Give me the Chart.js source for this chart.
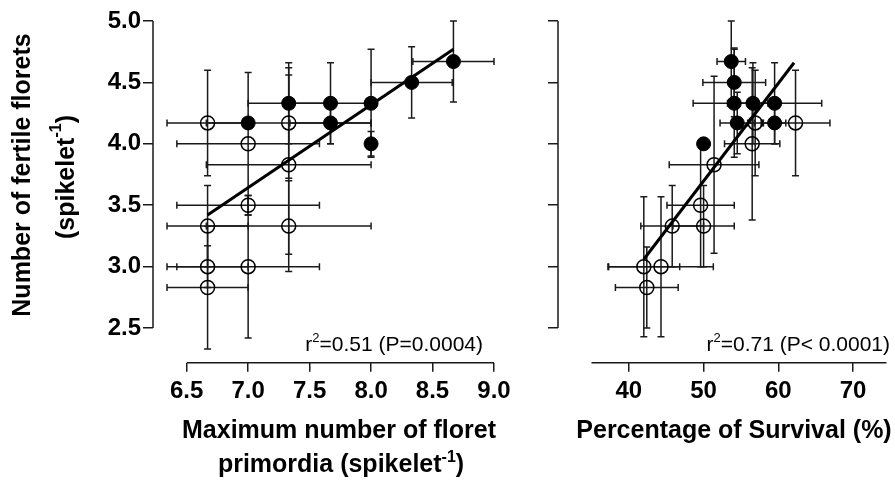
<!DOCTYPE html>
<html>
<head>
<meta charset="utf-8">
<script src="https://cdn.jsdelivr.net/npm/chart.js@4.4.0/dist/chart.umd.min.js"></script>
<style>
  body { margin: 0; background: #fff; }
  #wrap { position: relative; width: 895px; height: 480px; }
  canvas { position: absolute; top: 0; }
  #left { left: 0; }
  #right { left: 520px; }
</style>
</head>
<body>
<div id="wrap">
  <canvas id="left" width="520" height="480"></canvas>
  <canvas id="right" width="375" height="480"></canvas>
</div>
<script>
// tick labels
const yTicks = [2.5, 3.0, 3.5, 4.0, 4.5, 5.0];
const primTicks = [6.5, 7.0, 7.5, 8.0, 8.5, 9.0];
const survTicks = [40, 50, 60, 70];

// left panel - max floret primordia vs fertile florets
const primOpenX = [6.67, 6.67, 6.67, 6.67, 7.0, 7.0, 7.0, 7.33, 7.33, 7.33];
const primOpenY = [4.17, 3.33, 3.0, 2.83, 4.0, 3.5, 3.0, 4.17, 3.83, 3.33];
const primOpenXErr = [0.33, 0.33, 0.33, 0.33, 0.58, 0.58, 0.58, 0.67, 0.67, 0.67];
const primOpenYErr = [0.43, 0.33, 0.17, 0.5, 0.58, 0.08, 0.58, 0.45, 0.73, 0.37];
const primFillX = [7.0, 7.33, 7.67, 7.67, 8.0, 8.0, 8.33, 8.67];
const primFillY = [4.17, 4.33, 4.33, 4.17, 4.33, 4.0, 4.5, 4.67];
const primFillXErr = [0, 0.33, 0.33, 0.33, 0, 0, 0.33, 0.33];
const primFillYErr = [0, 0.33, 0.33, 0.17, 0.44, 0.1, 0.29, 0.33];
const primFitX = [6.67, 8.67];
const primFitY = [3.42, 4.77];

// right panel - survival vs fertile florets
const survOpenX = [56.9, 62.3, 56.5, 51.4, 49.6, 45.8, 50.0, 42.0, 44.3, 42.4];
const survOpenY = [4.17, 4.17, 4.0, 3.83, 3.5, 3.33, 3.33, 3.0, 3.0, 2.83];
const survOpenXErr = [1.0, 4.6, 3.7, 6.0, 4.5, 4.2, 4.1, 4.8, 7.0, 4.2];
const survOpenYErr = [0.43, 0.43, 0.62, 0.72, 0.5, 0.33, 0.33, 0.57, 0.57, 0.33];
const survFillX = [53.7, 54.1, 54.1, 56.6, 59.5, 54.5, 59.5, 50.0];
const survFillY = [4.67, 4.5, 4.33, 4.33, 4.33, 4.17, 4.17, 4.0];
const survFillXErr = [1.9, 4.2, 5.5, 2.0, 6.3, 2.3, 1.5, 0];
const survFillYErr = [0.33, 0.28, 0.44, 0.33, 0.33, 0.25, 0.17, 0];
const survFitX = [42.0, 62.1];
const survFitY = [3.06, 4.66];

const FONT = "'Liberation Sans', Arial, sans-serif";
const INK = '#1a1a1a';

function pts(xs, ys) {
  return xs.map((v, i) => ({ x: v, y: ys[i] }));
}

// text with superscript pieces: parts = [[text, isSup], ...]
function richText(ctx, parts, x, y, size, weight, align) {
  const big = weight + ' ' + size + 'px ' + FONT;
  const small = weight + ' ' + Math.round(size * 0.62) + 'px ' + FONT;
  let total = 0;
  parts.forEach(p => { ctx.font = p[1] ? small : big; total += ctx.measureText(p[0]).width; });
  let cx = align === 'right' ? x - total : align === 'center' ? x - total / 2 : x;
  ctx.textAlign = 'left';
  parts.forEach(p => {
    ctx.font = p[1] ? small : big;
    ctx.fillText(p[0], cx, p[1] ? y - size * 0.42 : y);
    cx += ctx.measureText(p[0]).width;
  });
}

const errorBars = {
  id: 'errorBars',
  beforeDatasetsDraw(chart) {
    const { ctx } = chart;
    const sx = chart.scales.x, sy = chart.scales.y;
    const cap = 3.5;
    ctx.save();
    ctx.strokeStyle = INK;
    ctx.lineWidth = 1.5;
    chart.data.datasets.forEach(ds => {
      if (!ds.xErr) return;
      ds.data.forEach((p, i) => {
        const px = sx.getPixelForValue(p.x), py = sy.getPixelForValue(p.y);
        const ex = ds.xErr[i], ey = ds.yErr[i];
        ctx.beginPath();
        if (ex > 0) {
          const x1 = sx.getPixelForValue(p.x - ex), x2 = sx.getPixelForValue(p.x + ex);
          ctx.moveTo(x1, py); ctx.lineTo(x2, py);
          ctx.moveTo(x1, py - cap); ctx.lineTo(x1, py + cap);
          ctx.moveTo(x2, py - cap); ctx.lineTo(x2, py + cap);
        }
        if (ey > 0) {
          const y1 = sy.getPixelForValue(p.y - ey), y2 = sy.getPixelForValue(p.y + ey);
          ctx.moveTo(px, y1); ctx.lineTo(px, y2);
          ctx.moveTo(px - cap, y1); ctx.lineTo(px + cap, y1);
          ctx.moveTo(px - cap, y2); ctx.lineTo(px + cap, y2);
        }
        ctx.stroke();
      });
    });
    ctx.restore();
  }
};

// prism style detached axis lines
function axisLines(xFrom, xTo) {
  return {
    id: 'axisLines',
    afterDraw(chart) {
      const { ctx, chartArea } = chart;
      const sx = chart.scales.x, sy = chart.scales.y;
      ctx.save();
      ctx.strokeStyle = INK;
      ctx.lineWidth = 1.5;
      ctx.beginPath();
      ctx.moveTo(chartArea.left, sy.getPixelForValue(yTicks[yTicks.length - 1]));
      ctx.lineTo(chartArea.left, sy.getPixelForValue(yTicks[0]));
      ctx.moveTo(sx.getPixelForValue(xFrom), chartArea.bottom);
      ctx.lineTo(xTo === null ? chartArea.right : sx.getPixelForValue(xTo), chartArea.bottom);
      ctx.stroke();
      ctx.restore();
    }
  };
}

function datasets(openX, openY, openXErr, openYErr, fillX, fillY, fillXErr, fillYErr, fitX, fitY) {
  return [
    {
      type: 'line', data: pts(fitX, fitY), borderColor: '#000', borderWidth: 3,
      pointRadius: 0, order: 0
    },
    {
      data: pts(openX, openY), xErr: openXErr, yErr: openYErr,
      pointRadius: 7, pointBorderWidth: 1.5, pointBorderColor: '#000',
      pointBackgroundColor: 'rgba(0,0,0,0)', order: 2
    },
    {
      data: pts(fillX, fillY), xErr: fillXErr, yErr: fillYErr,
      pointRadius: 7, pointBorderWidth: 1, pointBorderColor: '#000',
      pointBackgroundColor: '#000', order: 1
    }
  ];
}

function options(xMin, xMax, xTicks, xFmt, yWidth, yLabels, pad) {
  const grid = { drawOnChartArea: false, drawTicks: true, color: INK, lineWidth: 1.5 };
  return {
    responsive: false,
    animation: false,
    devicePixelRatio: 1,
    layout: { padding: pad },
    plugins: { legend: { display: false }, tooltip: { enabled: false } },
    scales: {
      x: {
        type: 'linear', min: xMin, max: xMax,
        border: { display: false },
        grid: Object.assign({ tickLength: 9 }, grid),
        afterBuildTicks: s => { s.ticks = xTicks.map(v => ({ value: v })); },
        afterFit: s => { s.height = 117.3; s.paddingLeft = 0; s.paddingRight = 0; },
        ticks: {
          callback: xFmt, color: '#000', padding: 5, maxRotation: 0, autoSkip: false,
          font: { family: FONT, size: 24, weight: 'bold' }
        }
      },
      y: {
        type: 'linear', min: 2.218, max: 5.0,
        border: { display: false },
        grid: Object.assign({ tickLength: 10 }, grid),
        afterBuildTicks: s => { s.ticks = yTicks.map(v => ({ value: v })); },
        afterFit: s => { s.width = yWidth; s.paddingTop = 0; s.paddingBottom = 0; },
        ticks: {
          display: yLabels,
          callback: v => v.toFixed(1), color: '#000', padding: 2, autoSkip: false,
          font: { family: FONT, size: 24, weight: 'bold' }
        }
      }
    }
  };
}

const leftText = {
  id: 'leftText',
  afterDraw(chart) {
    const ctx = chart.ctx;
    ctx.save();
    ctx.fillStyle = '#000';
    ctx.textBaseline = 'middle';
    ctx.save();
    ctx.translate(23, 175);
    ctx.rotate(-Math.PI / 2);
    richText(ctx, [['Number of fertile florets', false]], 0, 0, 25, 'bold', 'center');
    ctx.restore();
    ctx.save();
    ctx.translate(67, 177);
    ctx.rotate(-Math.PI / 2);
    richText(ctx, [['(spikelet', false], ['-1', true], [')', false]], 0, 0, 25, 'bold', 'center');
    ctx.restore();
    ctx.textBaseline = 'alphabetic';
    richText(ctx, [['Maximum number of floret', false]], 339, 438, 25, 'bold', 'center');
    richText(ctx, [['primordia (spikelet', false], ['-1', true], [')', false]], 341, 472, 25, 'bold', 'center');
    richText(ctx, [['r', false], ['2', true], ['=0.51 (P=0.0004)', false]], 483, 351, 21, 'normal', 'right');
    ctx.restore();
  }
};

const rightText = {
  id: 'rightText',
  afterDraw(chart) {
    const ctx = chart.ctx;
    ctx.save();
    ctx.fillStyle = '#000';
    ctx.textBaseline = 'alphabetic';
    richText(ctx, [['Percentage of Survival (%)', false]], 214, 438, 25, 'bold', 'center');
    richText(ctx, [['r', false], ['2', true], ['=0.71 (P< 0.0001)', false]], 370, 351, 21, 'normal', 'right');
    ctx.restore();
  }
};

new Chart(document.getElementById('left'), {
  type: 'scatter',
  data: {
    datasets: datasets(primOpenX, primOpenY, primOpenXErr, primOpenYErr,
      primFillX, primFillY, primFillXErr, primFillYErr, primFitX, primFitY)
  },
  options: options(6.226, 9.0, primTicks, v => v.toFixed(1), 153, true,
    { top: 21, right: 26, bottom: 0, left: 0 }),
  plugins: [errorBars, axisLines(primTicks[0], primTicks[primTicks.length - 1]), leftText]
});

new Chart(document.getElementById('right'), {
  type: 'scatter',
  data: {
    datasets: datasets(survOpenX, survOpenY, survOpenXErr, survOpenYErr,
      survFillX, survFillY, survFillXErr, survFillYErr, survFitX, survFitY)
  },
  options: options(30.52, 74.47, survTicks, v => String(v), 38, false,
    { top: 21, right: 0, bottom: 0, left: 0 }),
  plugins: [errorBars, axisLines(35, null), rightText]
});
</script>
</body>
</html>
